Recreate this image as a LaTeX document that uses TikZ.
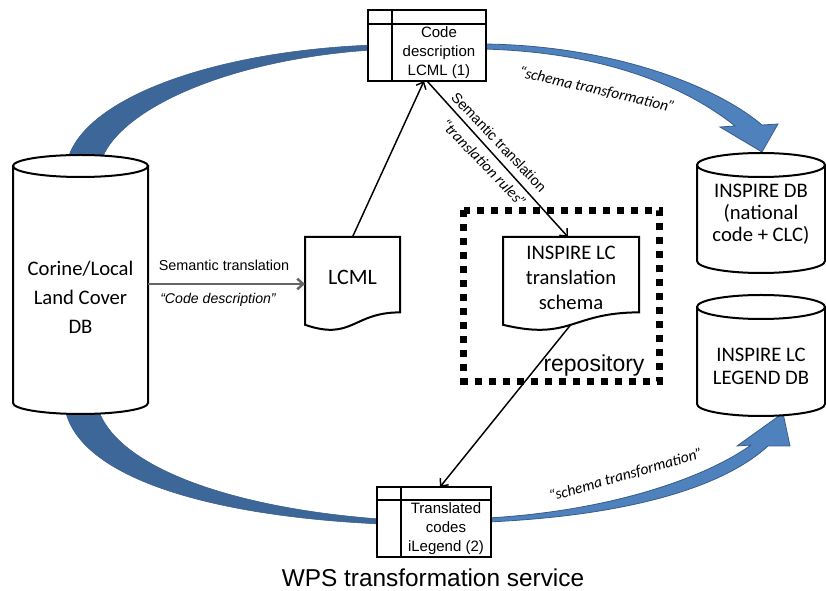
\documentclass[tikz,border=0pt]{standalone}
\usepackage{fontspec}
\setmainfont{Carlito}
\newfontfamily\arialf{Liberation Sans}
\usetikzlibrary{arrows.meta,calc}
\definecolor{arcdark}{RGB}{62,103,153}
\definecolor{arclight}{RGB}{79,129,189}
\definecolor{arcedge}{RGB}{56,93,138}
\begin{document}
\begin{tikzpicture}[x=0.75pt,y=-0.75pt,
  shapeline/.style={draw=black,line width=1.5pt,fill=white},
  bluedark/.style={fill=arcdark,draw=arcedge,line width=0.4pt},
  bluelight/.style={fill=arclight,draw=arcedge,line width=0.6pt},
  conn/.style={line width=1.1pt,-{Straight Barb[length=4.5pt,width=8pt]}},
  greyconn/.style={draw=black!60,line width=1.8pt,-{Straight Barb[length=4.5pt,width=8pt]}},
  holder/.style={inner sep=0pt,outer sep=0pt},
  tablebox/.style={holder,draw=black,line width=1.5pt,fill=white},
  bigtext/.style={align=center,inner sep=0pt},
  tabtext/.style={align=center,inner sep=0pt,font=\arialf\fontsize{11.25}{14.25}\selectfont},
  smalllab/.style={inner sep=0pt,font=\arialf\fontsize{10.8}{13}\selectfont},
  smallital/.style={inner sep=0pt,font=\arialf\itshape\fontsize{10.6}{13}\selectfont},
  calital/.style={inner sep=0pt,font=\itshape\fontsize{11.6}{14}\selectfont},
]
\useasboundingbox (0,0) rectangle (826,591);

% blue curved arrows
\draw[bluedark] (66,170) .. controls (70,105) and (200,52) .. (372,45) -- (372,50) .. controls (220,60) and (106,115) .. (99,170) -- cycle;
\draw[bluelight] (482,44) .. controls (610,45) and (715,85) .. (762,125) -- (778,124) -- (762,152) -- (720,127) -- (735,126) .. controls (690,90) and (610,52) .. (482,49) -- cycle;
\draw[bluedark] (64,400) .. controls (67,470) and (190,515) .. (380,524) -- (380,519) .. controls (230,508) and (106,465) .. (96,400) -- cycle;
\draw[bluelight] (488,522) .. controls (620,516) and (720,490) .. (768,446) -- (790,446) -- (783,413) -- (737,446) -- (751,445) .. controls (705,478) and (610,511) .. (488,518) -- cycle;

% left cylinder
\node[holder,minimum width=101.25pt,minimum height=177.75pt] (corinecyl) at (80.5,284.5) {};
\draw[shapeline] (13,166) -- (13,403) arc[start angle=180,end angle=360,x radius=50.625pt,y radius=8.25pt] -- (148,166) -- cycle;
\draw[shapeline] (80.5,166) ellipse[x radius=50.625pt,y radius=8.25pt];
\node[bigtext,font=\fontsize{15.5}{21.75}\selectfont] (corine) at (80.5,297) {Corine/Local\\Land Cover\\DB};

% right cylinders
\node[holder,minimum width=96pt,minimum height=72pt] (inspirecyl) at (761,213) {};
\draw[shapeline] (697,165) -- (697,261) arc[start angle=180,end angle=360,x radius=48pt,y radius=9pt] -- (825,165) -- cycle;
\draw[shapeline] (761,165) ellipse[x radius=48pt,y radius=9pt];
\node[bigtext,font=\fontsize{15.5}{16.5}\selectfont] (inspiredb) at (761,214) {INSPIRE DB\\(national\\code + CLC)};

\node[holder,minimum width=96pt,minimum height=72.75pt] (legendcyl) at (761,355.5) {};
\draw[shapeline] (697,307) -- (697,404) arc[start angle=180,end angle=360,x radius=48pt,y radius=9pt] -- (825,307) -- cycle;
\draw[shapeline] (761,307) ellipse[x radius=48pt,y radius=9pt];
\node[bigtext,font=\fontsize{15.5}{17.25}\selectfont] (legenddb) at (761,366) {INSPIRE LC\\LEGEND DB};

% repository
\node[holder,minimum width=147pt,minimum height=128.25pt] (repo) at (561.5,296) {};
\draw[line width=5.25pt,dash pattern=on 5.25pt off 5.25pt] (repo.north west) rectangle (repo.south east);
\node[inner sep=0pt,font=\arialf\fontsize{17.25}{20}\selectfont] (repolabel) at (594,366) {repository};

% documents
\node[holder,minimum width=71.25pt,minimum height=70.5pt] (lcml) at (352.5,284) {};
\draw[shapeline] (lcml.north west) -- (lcml.north east) -- ($(lcml.north east)!0.802!(lcml.south east)$) .. controls ($(lcml.north)!0.802!(lcml.south)$) and ($(lcml.north)!1.1075!(lcml.south)$) .. ($(lcml.north west)!0.934!(lcml.south west)$) -- cycle;
\node[inner sep=0pt,font=\fontsize{16.5}{20}\selectfont] (lcmltext) at ($(lcml.north)!0.43!(lcml.south)$) {LCML};

\node[holder,minimum width=102pt,minimum height=70.5pt] (schema) at (571,284) {};
\draw[shapeline] (schema.north west) -- (schema.north east) -- ($(schema.north east)!0.802!(schema.south east)$) .. controls ($(schema.north)!0.802!(schema.south)$) and ($(schema.north)!1.1075!(schema.south)$) .. ($(schema.north west)!0.934!(schema.south west)$) -- cycle;
\node[bigtext,font=\fontsize{15.5}{18.75}\selectfont] (schematext) at ($(schema.north)!0.43!(schema.south)$) {INSPIRE LC\\translation\\schema};

% tables
\node[tablebox,minimum width=88.5pt,minimum height=53.25pt] (t1) at (427,45.5) {};
\draw[line width=1.5pt] ([yshift=-10.5pt]t1.north west) -- ([yshift=-10.5pt]t1.north east);
\draw[line width=1.5pt] ([xshift=18pt]t1.north west) -- ([xshift=18pt]t1.south west);
\node[tabtext] (t1text) at (439,53) {Code\\description\\LCML (1)};

\node[tablebox,minimum width=85.5pt,minimum height=52.5pt] (t2) at (434,522) {};
\draw[line width=1.5pt] ([yshift=-9.75pt]t2.north west) -- ([yshift=-9.75pt]t2.north east);
\draw[line width=1.5pt] ([xshift=18pt]t2.north west) -- ([xshift=18pt]t2.south west);
\node[tabtext] (t2text) at (446,529) {Translated\\codes\\iLegend (2)};

% connectors
\draw[greyconn] (corinecyl.east |- lcml.west) -- (lcml.west);
\draw[conn] (lcml.north) -- ([xshift=-2.25pt]t1.south);
\draw[conn] (t1.south) -- ([xshift=-2.25pt]schema.north);
\draw[conn] ($(schema.north)!0.93!(schema.south)$) -- ([xshift=4.5pt]t2.north);

% labels
\node[smalllab] (lab1) at (224,265) {Semantic translation};
\node[smallital] (lab2) at (218,300) {“Code description”};
\node[smalllab,rotate=-46.5] (lab3) at (499,142) {Semantic translation};
\node[calital,rotate=-46] (lab4) at (484,163) {“translation rules”};
\node[calital,rotate=-13] (lab5) at (597,90) {“schema transformation”};
\node[calital,rotate=16] (lab6) at (626,475) {“schema transformation”};
\node[inner sep=0pt,font=\arialf\fontsize{18.3}{22}\selectfont] (wps) at (433,578) {WPS transformation service};
\end{tikzpicture}
\end{document}
